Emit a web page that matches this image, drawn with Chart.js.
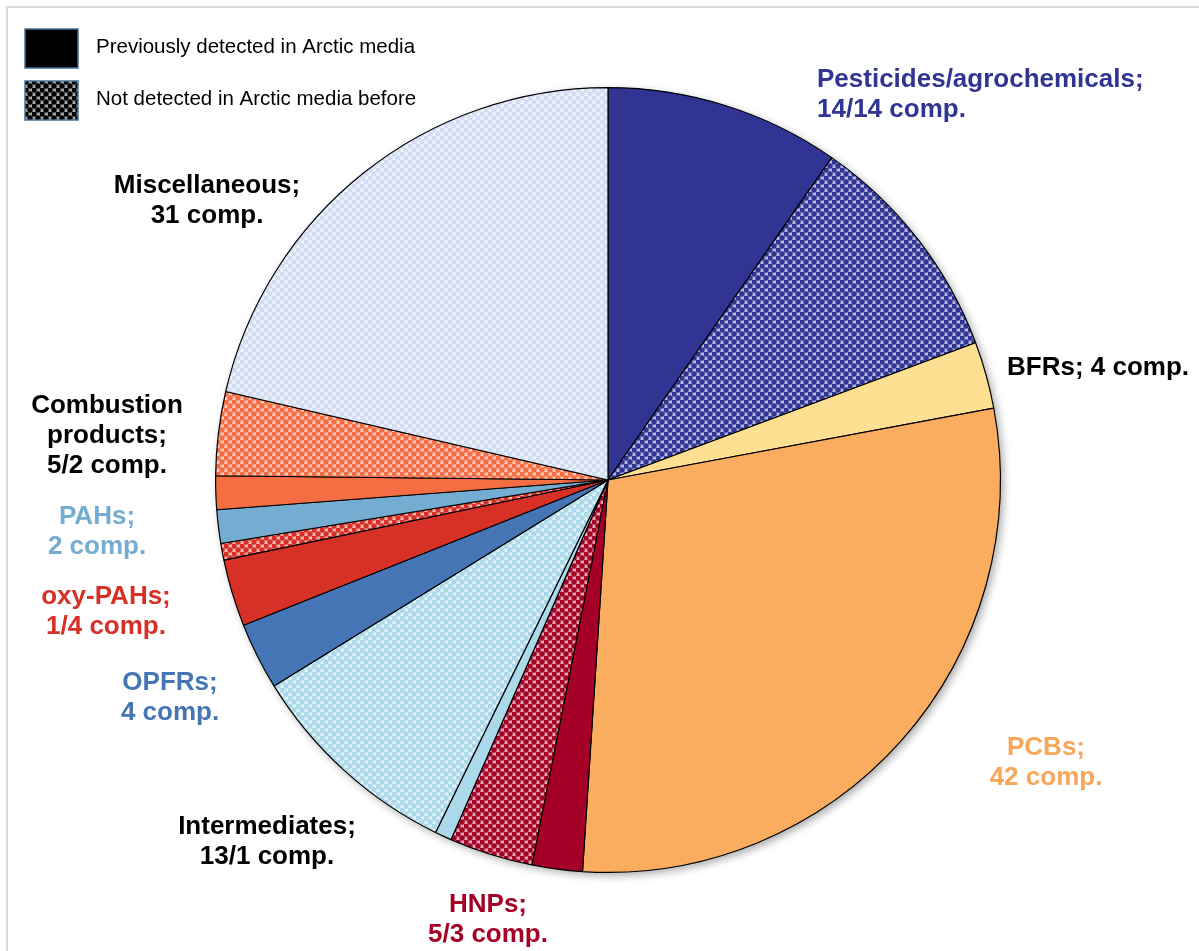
<!DOCTYPE html>
<html lang="en">
<head>
<meta charset="UTF-8">
<title>Compounds detected in Arctic media</title>
<script src="https://cdn.jsdelivr.net/npm/chart.js"></script>
<style>
  body { margin: 0; background: #fff; }
  .box { width: 1199px; height: 951px; position: relative; }
</style>
</head>
<body>
<div class="box"><canvas id="pieChart"></canvas></div>

<script>
// slices, clockwise from 12 o'clock
var groups = ['Pesticides/agrochemicals', 'Pesticides/agrochemicals', 'BFRs', 'PCBs', 'HNPs', 'HNPs',
  'Intermediates', 'Intermediates', 'OPFRs', 'oxy-PAHs', 'oxy-PAHs', 'PAHs',
  'Combustion products', 'Combustion products', 'Miscellaneous'];
var detected_before = [true, false, true, true, true, false, true, false, true, true, false, true, true, false, false];
var compounds = [14, 14, 4, 42, 3, 5, 1, 13, 4, 4, 1, 2, 2, 5, 31];

var legend_texts = ['Previously detected in Arctic media', 'Not detected in Arctic media before'];

// label text for each group
var label_lines = [
  ['Pesticides/agrochemicals;', '14/14 comp.'],
  ['BFRs; 4 comp.'],
  ['PCBs;', '42 comp.'],
  ['HNPs;', '5/3 comp.'],
  ['Intermediates;', '13/1 comp.'],
  ['OPFRs;', '4 comp.'],
  ['oxy-PAHs;', '1/4 comp.'],
  ['PAHs;', '2 comp.'],
  ['Combustion', 'products;', '5/2 comp.'],
  ['Miscellaneous;', '31 comp.']
];

// colours per group
var group_colors = {
  'Pesticides/agrochemicals': '#303593',
  'BFRs': '#FFE092',
  'PCBs': '#FBAD5F',
  'HNPs': '#A50026',
  'Intermediates': '#ABD9E9',
  'OPFRs': '#4575B4',
  'oxy-PAHs': '#D73027',
  'PAHs': '#74ADD1',
  'Combustion products': '#F46D43',
  'Miscellaneous': '#D3DEF3'
};

// where the labels sit, relative to the pie centre
var label_place = [
  { dx: 209, dy: -400, align: 'left', color: '#303593' },
  { dx: 399, dy: -112, align: 'left', color: '#000000' },
  { dx: 438, dy: 268, align: 'center', color: '#F8A65A' },
  { dx: -120, dy: 425, align: 'center', color: '#A50026' },
  { dx: -341, dy: 347, align: 'center', color: '#000000' },
  { dx: -438, dy: 203, align: 'center', color: '#4575B4' },
  { dx: -502, dy: 117, align: 'center', color: '#D73027' },
  { dx: -511, dy: 37, align: 'center', color: '#74ADD1' },
  { dx: -501, dy: -74, align: 'center', color: '#000000' },
  { dx: -401, dy: -294, align: 'center', color: '#000000' }
];

function make_pattern(color) {
  var c = document.createElement('canvas');
  c.width = 8; c.height = 8;
  var g = c.getContext('2d');
  g.fillStyle = '#ffffff';
  g.fillRect(0, 0, 8, 8);
  g.globalAlpha = 0.35;
  g.fillStyle = color;
  g.fillRect(4, 0, 4, 4);
  g.fillRect(0, 4, 4, 4);
  g.globalAlpha = 1;
  var pts = [[2, 2], [6, 6], [-2, 6], [6, -2], [10, 6], [6, 10], [-2, -2], [10, 10], [10, -2], [-2, 10]];
  for (var i = 0; i < pts.length; i++) {
    g.beginPath();
    g.arc(pts[i][0], pts[i][1], 2.7, 0, Math.PI * 2);
    g.fill();
  }
  return g.createPattern(c, 'repeat');
}

var fills = [];
for (var i = 0; i < groups.length; i++) {
  var col = group_colors[groups[i]];
  fills.push(detected_before[i] ? col : make_pattern(col));
}

var frame_and_shadow = {
  id: 'frame_and_shadow',
  beforeDraw: function (chart) {
    var ctx = chart.ctx;
    ctx.save();
    ctx.strokeStyle = '#D9D9D9';
    ctx.lineWidth = 2;
    ctx.strokeRect(7, 7, chart.width + 20, chart.height + 20);
    ctx.restore();
  },
  beforeDatasetsDraw: function (chart) {
    var arc = chart.getDatasetMeta(0).data[0];
    var ctx = chart.ctx;
    ctx.save();
    ctx.shadowColor = 'rgba(0,0,0,0.35)';
    ctx.shadowBlur = 9;
    ctx.shadowOffsetX = 3;
    ctx.shadowOffsetY = 3;
    ctx.fillStyle = '#ffffff';
    ctx.beginPath();
    ctx.arc(arc.x, arc.y, arc.outerRadius, 0, Math.PI * 2);
    ctx.fill();
    ctx.restore();
  }
};

var text_labels = {
  id: 'text_labels',
  afterDatasetsDraw: function (chart) {
    var arc = chart.getDatasetMeta(0).data[0];
    var ctx = chart.ctx;
    ctx.save();
    ctx.font = 'bold 26px "Liberation Sans", Arial, sans-serif';
    ctx.textBaseline = 'middle';
    for (var i = 0; i < label_lines.length; i++) {
      var p = label_place[i];
      ctx.fillStyle = p.color;
      ctx.textAlign = p.align;
      for (var j = 0; j < label_lines[i].length; j++) {
        ctx.fillText(label_lines[i][j], arc.x + p.dx, arc.y + p.dy + j * 30);
      }
    }

    // legend
    ctx.font = '20.5px "Liberation Sans", Arial, sans-serif';
    ctx.textAlign = 'left';
    var boxes = ['#000000', make_pattern('#000000')];
    for (var k = 0; k < legend_texts.length; k++) {
      var y = 29 + k * 52;
      ctx.fillStyle = boxes[k];
      ctx.fillRect(25, y, 53, 39);
      ctx.strokeStyle = '#41719C';
      ctx.lineWidth = 1.5;
      ctx.strokeRect(25, y, 53, 39);
      ctx.fillStyle = '#000000';
      ctx.fillText(legend_texts[k], 96, y + 18);
    }
    ctx.restore();
  }
};

new Chart(document.getElementById('pieChart'), {
  type: 'pie',
  data: {
    labels: groups,
    datasets: [{
      data: compounds,
      backgroundColor: fills,
      borderColor: '#000000',
      borderWidth: 1.2
    }]
  },
  options: {
    responsive: true,
    maintainAspectRatio: false,
    animation: false,
    layout: { padding: { left: 215, right: 198, top: 87, bottom: 78 } },
    plugins: {
      legend: { display: false },
      tooltip: { enabled: false }
    }
  },
  plugins: [frame_and_shadow, text_labels]
});
</script>
</body>
</html>
